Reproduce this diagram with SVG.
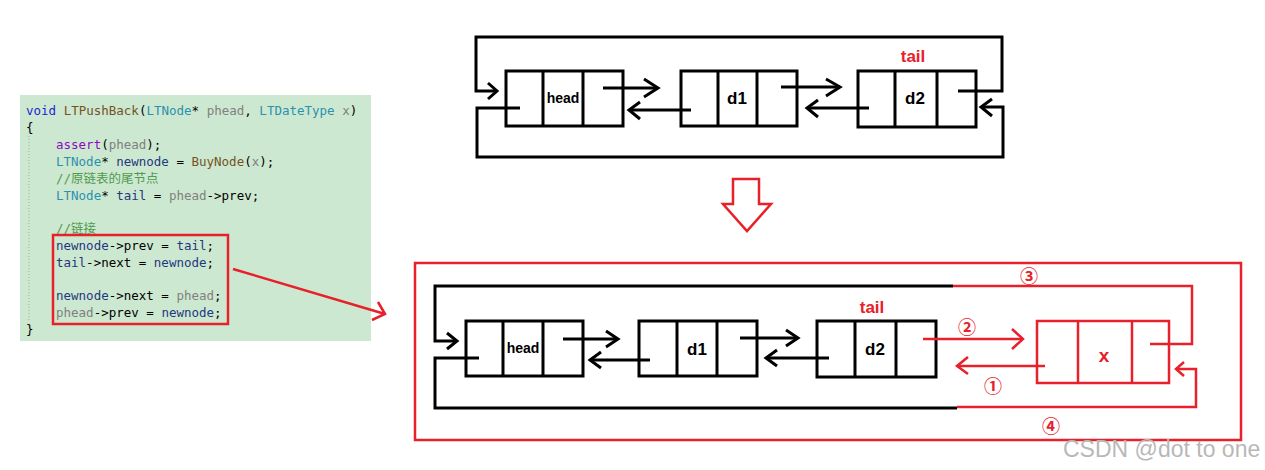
<svg xmlns="http://www.w3.org/2000/svg" width="1265" height="470" viewBox="0 0 1265 470">
<style>
.box{fill:none;stroke:#000;stroke-width:3}
.bk{fill:none;stroke:#000;stroke-width:3;stroke-linejoin:miter}
.rd{fill:none;stroke:#e8202a;stroke-width:2.5}
.rbox{fill:none;stroke:#e8202a;stroke-width:2.5}
.lbl{font-family:"Liberation Sans",Arial,sans-serif;font-weight:bold;text-anchor:middle;dominant-baseline:central}
.code{font-family:"DejaVu Sans Mono","Noto Sans CJK SC",monospace;font-size:12.5px;fill:#000}
.kw{fill:#1f1fd0}.ty{fill:#2b91af}.pa{fill:#808080}.fn{fill:#74531f}.va{fill:#1f377f}.ma{fill:#8f08c4}.cm{fill:#4f9a4f}
.num{font-family:"Noto Sans CJK SC","DejaVu Sans",sans-serif;font-size:18px;font-weight:bold;fill:#e8202a;text-anchor:middle;dominant-baseline:central}
</style>
<rect width="1265" height="470" fill="#fff"/>

<!-- code panel -->
<g id="code">
<rect x="20" y="95" width="351" height="246" fill="#cde8d0"/>
<line x1="29" y1="136" x2="29" y2="322" stroke="#9ab09c" stroke-width="1" stroke-dasharray="1,2"/>
<text class="code" y="115" x="26"><tspan class="kw">void</tspan> <tspan class="fn">LTPushBack</tspan>(<tspan class="ty">LTNode</tspan>* <tspan class="pa">phead</tspan>, <tspan class="ty">LTDateType</tspan> <tspan class="pa">x</tspan>)</text>
<text class="code" y="132" x="26">{</text>
<text class="code" y="149" x="56"><tspan class="ma">assert</tspan>(<tspan class="pa">phead</tspan>);</text>
<text class="code" y="166" x="56"><tspan class="ty">LTNode</tspan>* <tspan class="va">newnode</tspan> = <tspan class="fn">BuyNode</tspan>(<tspan class="pa">x</tspan>);</text>
<text class="code cm" y="183" x="56">//原链表的尾节点</text>
<text class="code" y="200" x="56"><tspan class="ty">LTNode</tspan>* <tspan class="va">tail</tspan> = <tspan class="pa">phead</tspan>-&gt;prev;</text>
<text class="code cm" y="233" x="56">//链接</text>
<text class="code" y="250" x="56"><tspan class="va">newnode</tspan>-&gt;prev = <tspan class="va">tail</tspan>;</text>
<text class="code" y="267" x="56"><tspan class="va">tail</tspan>-&gt;next = <tspan class="va">newnode</tspan>;</text>
<text class="code" y="300" x="56"><tspan class="va">newnode</tspan>-&gt;next = <tspan class="pa">phead</tspan>;</text>
<text class="code" y="317" x="56"><tspan class="pa">phead</tspan>-&gt;prev = <tspan class="va">newnode</tspan>;</text>
<text class="code" y="334" x="26">}</text>
<rect x="53" y="235" width="175" height="89" class="rbox"/>
</g>

<!-- top diagram nodes -->
<g id="t-head">
<rect x="506" y="71" width="117" height="55" class="box"/>
<line x1="543" y1="71" x2="543" y2="126" class="box"/><line x1="583" y1="71" x2="583" y2="126" class="box"/>
<text class="lbl" x="563" y="98" font-size="14">head</text>
</g>
<g id="t-d1">
<rect x="681" y="71" width="116" height="55" class="box"/>
<line x1="718" y1="71" x2="718" y2="126" class="box"/><line x1="757" y1="71" x2="757" y2="126" class="box"/>
<text class="lbl" x="737" y="98" font-size="17">d1</text>
</g>
<g id="t-d2">
<rect x="858" y="71" width="118" height="56" class="box"/>
<line x1="895" y1="71" x2="895" y2="127" class="box"/><line x1="937" y1="71" x2="937" y2="127" class="box"/>
<text class="lbl" x="915" y="98" font-size="17">d2</text>
<text class="lbl" x="913" y="56" font-size="17" fill="#e8202a">tail</text>
</g>

<g id="t-connectors">
<polyline class="bk" points="958,91 1002,91 1002,37 476,37 476,91 497,91"/>
<polyline class="bk" points="488,83 497,91 488,99"/>
<polyline class="bk" points="520,108 477,108 477,157 1003,157 1003,107 981,107"/>
<polyline class="bk" points="992,99 981,107 992,116"/>
<line class="bk" x1="603" y1="88" x2="658" y2="88"/><polyline class="bk" points="644,79 658,88 644,97"/>
<line class="bk" x1="691" y1="110" x2="629" y2="110"/><polyline class="bk" points="640,102 629,110 640,119"/>
<line class="bk" x1="781" y1="87" x2="840" y2="87"/><polyline class="bk" points="826,79 840,87 826,96"/>
<line class="bk" x1="869" y1="108" x2="807" y2="108"/><polyline class="bk" points="818,100 807,108 818,117"/>
</g>

<!-- big down arrow -->
<g id="down-arrow">
<polygon points="733,179 759,179 759,204 771,204 747,231 723,204 733,204" fill="#fff" stroke="#e8202a" stroke-width="2.5"/>
</g>

<!-- code to diagram arrow -->
<g id="code-arrow">
<line class="rd" x1="233" y1="269" x2="385" y2="314"/>
<polyline class="rd" points="378,302 385,314 372,320"/>
</g>

<!-- bottom frame -->
<rect x="415" y="263" width="826" height="177" class="rbox"/>

<g id="b-head">
<rect x="466" y="321" width="117" height="55" class="box"/>
<line x1="503" y1="321" x2="503" y2="376" class="box"/><line x1="543" y1="321" x2="543" y2="376" class="box"/>
<text class="lbl" x="523" y="348" font-size="14">head</text>
</g>
<g id="b-d1">
<rect x="639" y="321" width="118" height="55" class="box"/>
<line x1="677" y1="321" x2="677" y2="376" class="box"/><line x1="717" y1="321" x2="717" y2="376" class="box"/>
<text class="lbl" x="697" y="349" font-size="17">d1</text>
</g>
<g id="b-d2">
<rect x="817" y="321" width="119" height="56" class="box"/>
<line x1="855" y1="321" x2="855" y2="377" class="box"/><line x1="896" y1="321" x2="896" y2="377" class="box"/>
<text class="lbl" x="875" y="349" font-size="17">d2</text>
<text class="lbl" x="872" y="307" font-size="17" fill="#e8202a">tail</text>
</g>
<g id="b-x">
<rect x="1037" y="321" width="132" height="62" class="rbox"/>
<line x1="1078" y1="321" x2="1078" y2="383" class="rbox"/><line x1="1132" y1="321" x2="1132" y2="383" class="rbox"/>
<text class="lbl" x="1104" y="355" font-size="19" fill="#e8202a">x</text>
</g>

<g id="b-connectors">
<polyline class="bk" points="953,286 435,286 435,341 457,341"/>
<polyline class="bk" points="447,333 457,341 447,349"/>
<polyline class="bk" points="479,358 435,358 435,408 957,408"/>
<line class="bk" x1="563" y1="339" x2="618" y2="339"/><polyline class="bk" points="606,331 618,339 606,347"/>
<line class="bk" x1="650" y1="360" x2="590" y2="360"/><polyline class="bk" points="601,352 590,360 601,368"/>
<line class="bk" x1="740" y1="338" x2="798" y2="338"/><polyline class="bk" points="786,330 798,338 786,346"/>
<line class="bk" x1="829" y1="358" x2="766" y2="358"/><polyline class="bk" points="777,350 766,358 777,366"/>
<polyline class="rd" points="953,286 1192,286 1192,344 1150,344"/>
<polyline class="rd" points="957,407 1196,407 1196,369 1176,369"/>
<polyline class="rd" points="1184,362 1176,369 1184,376"/>
<line class="rd" x1="923" y1="339" x2="1023" y2="339"/><polyline class="rd" points="1012,329 1023,339 1012,349"/>
<line class="rd" x1="1045" y1="366" x2="957" y2="366"/><polyline class="rd" points="968,357 957,366 968,374"/>
<text class="num" x="993" y="385">①</text>
<text class="num" x="967" y="326">②</text>
<text class="num" x="1029" y="275">③</text>
<text class="num" x="1051" y="425">④</text>
</g>

<text x="1063" y="457" font-family="Liberation Sans,Arial,sans-serif" font-size="23" fill="#b8b8b8">CSDN @dot to one</text>
</svg>
